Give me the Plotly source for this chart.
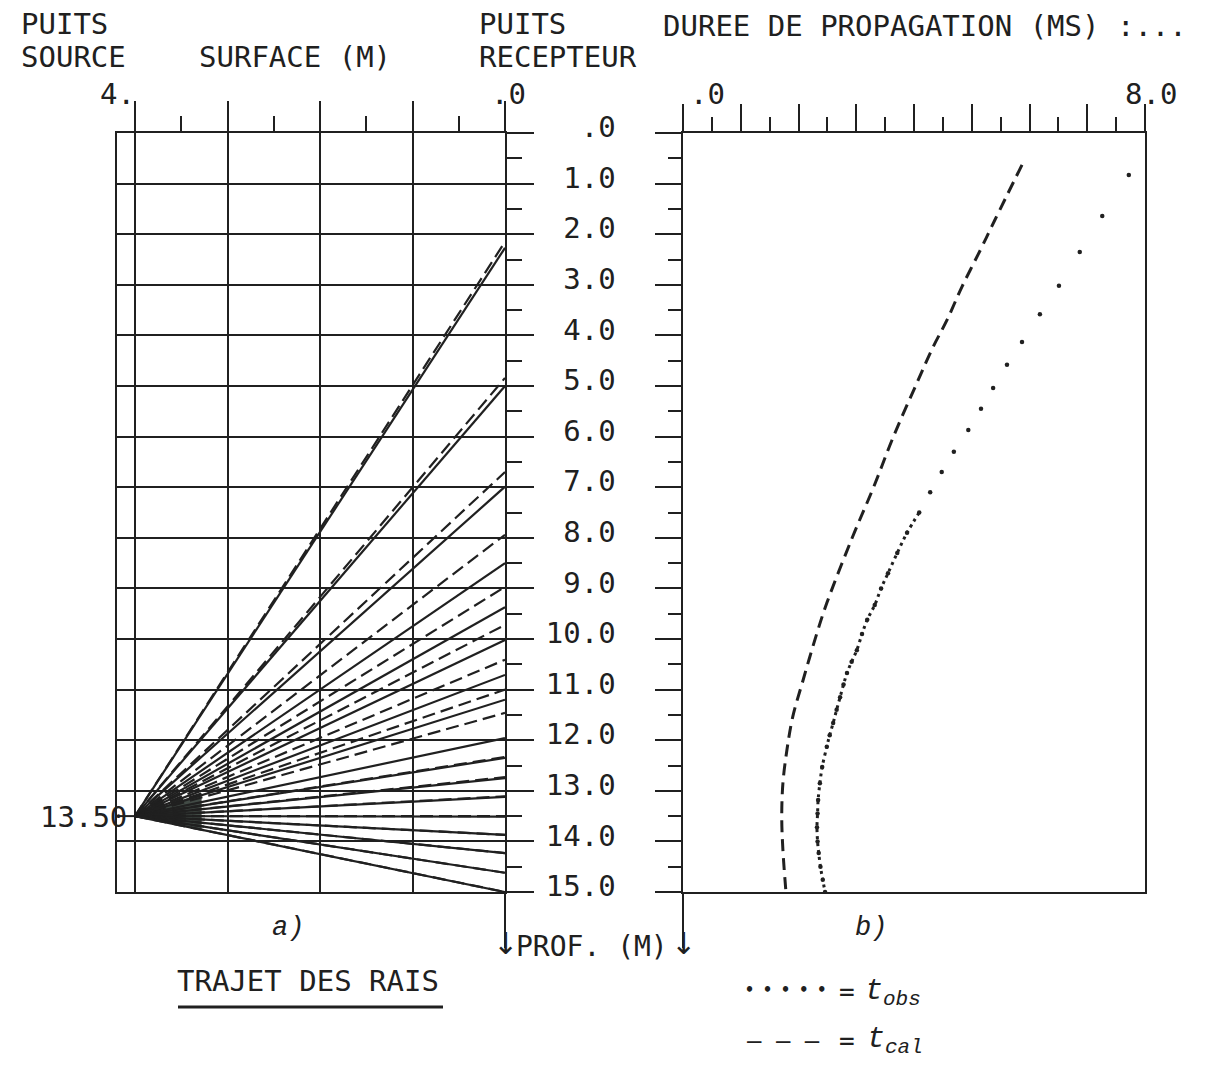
import plotly.graph_objects as go

# ---------------------------------------------------------------------------
# Data
# ---------------------------------------------------------------------------
# Cross-well geometry (m)
source_offset = 4.0      # distance from receiver well to source well
source_depth = 13.5      # shot depth in the source well

# Depth (m) at which each ray reaches the receiver well
ray_end_solid = [2.27, 5.00, 6.99, 8.50, 9.37, 10.02, 10.71, 11.20, 11.96,
                 12.35, 12.75, 13.12, 13.51, 13.87, 14.23, 14.62, 15.00]
ray_end_dashed = [2.15, 4.84, 6.70, 7.94, 8.97, 9.72, 10.41, 11.00, 11.46,
                  12.33, 12.73, 13.11, 13.50, 13.87, 14.23, 14.62, 15.00]

# Computed travel times (ms) vs receiver depth (m)
cal_depth = [0.63, 1.72, 2.31, 3.04, 3.70, 4.23, 4.94, 6.01, 7.00, 8.00,
             9.29, 9.88, 10.81, 11.54, 12.19, 12.85, 13.52, 14.17, 14.96]
cal_time = [5.87, 5.40, 5.15, 4.83, 4.57, 4.33, 4.05, 3.64, 3.30, 2.93,
            2.49, 2.32, 2.08, 1.90, 1.80, 1.73, 1.71, 1.73, 1.78]

# Observed travel times (ms) vs receiver depth (m)
obs_depth = [0.83, 1.64, 2.35, 3.02, 3.58, 4.13, 4.58, 5.04, 5.45, 5.87,
             6.30, 6.70, 7.10, 7.50, 7.90, 8.30, 8.70, 9.00, 9.33, 9.62,
             9.90, 10.22, 10.45, 10.67, 10.90, 11.15, 11.40, 11.66, 11.90,
             12.13, 12.53, 12.85, 13.18, 13.45, 13.72, 14.00, 14.23, 14.50,
             14.76, 15.00]
obs_time = [7.72, 7.26, 6.87, 6.51, 6.18, 5.87, 5.61, 5.37, 5.16, 4.94,
            4.69, 4.48, 4.28, 4.09, 3.88, 3.71, 3.55, 3.43, 3.32, 3.19,
            3.10, 3.01, 2.92, 2.84, 2.78, 2.72, 2.66, 2.60, 2.54,
            2.49, 2.41, 2.37, 2.34, 2.33, 2.32, 2.33, 2.35, 2.38,
            2.42, 2.46]

depth_ticks = list(range(0, 16))
surface_ticks = [0, 1, 2, 3, 4]
time_ticks = list(range(0, 9))

# ---------------------------------------------------------------------------
# Page geometry and style
# ---------------------------------------------------------------------------
W, H = 1211, 1066
INK = "#202020"
MONO = "DejaVu Sans Mono"
SCRIPT = "Liberation Mono"


def fx(p):
    return p / W


def fy(p):
    return 1 - p / H


x_left_edge = (505 - 117) / 92.5     # surface-axis value at the left frame
dense_from = 7.4                     # observed samples are continuous below this depth
core_width = 0.72                    # width (m) of the dense fan around the source


def depth_label(v):
    s = f"{v:.1f}"
    if s.startswith("0"):
        s = s[1:]
    return s.rjust(4, "\u00a0")


fig = go.Figure()

# --- a) ray paths -----------------------------------------------------------
def ray_point(end_depth, s):
    return (source_offset - s,
            source_depth + (end_depth - source_depth) * s / source_offset)


core = [d for d in ray_end_solid + ray_end_dashed if d >= 10.9]
p_top = ray_point(min(core), core_width)
p_bot = ray_point(max(core), core_width)
fig.add_trace(go.Scatter(
    x=[source_offset, p_top[0], p_bot[0], source_offset],
    y=[source_depth, p_top[1], p_bot[1], source_depth],
    fill="toself", fillcolor="rgba(40,50,44,0.88)", mode="lines",
    line=dict(width=0), xaxis="x", yaxis="y", hoverinfo="skip"))


def ray_xy(ends):
    xs, ys = [], []
    for d in ends:
        xs += [source_offset, 0, None]
        ys += [source_depth, d, None]
    return xs, ys


xd, yd = ray_xy(ray_end_dashed)
fig.add_trace(go.Scatter(x=xd, y=yd, mode="lines", xaxis="x", yaxis="y",
                         line=dict(color=INK, width=2.2, dash="13px,6px")))
xs, ys = ray_xy(ray_end_solid)
fig.add_trace(go.Scatter(x=xs, y=ys, mode="lines", xaxis="x", yaxis="y",
                         line=dict(color=INK, width=2.2)))
# source position mark on the source well
fig.add_trace(go.Scatter(x=[x_left_edge, source_offset], y=[source_depth] * 2,
                         mode="lines", xaxis="x", yaxis="y",
                         line=dict(color=INK, width=2)))

# --- b) travel times ----------------------------------------------------------
fig.add_trace(go.Scatter(x=cal_time, y=cal_depth, mode="lines", xaxis="x2", yaxis="y2",
                         line=dict(color=INK, width=3, dash="12px,7px", shape="spline")))
fig.add_trace(go.Scatter(x=obs_time, y=obs_depth, mode="markers", xaxis="x2", yaxis="y2",
                         marker=dict(color=INK, size=4.5)))
dense = [(t, d) for t, d in zip(obs_time, obs_depth) if d >= dense_from]
fig.add_trace(go.Scatter(x=[p[0] for p in dense], y=[p[1] for p in dense],
                         mode="lines", xaxis="x2", yaxis="y2",
                         line=dict(color=INK, width=3, dash="3px,4px", shape="spline")))

# ---------------------------------------------------------------------------
# Axes
# ---------------------------------------------------------------------------
ydom = [fy(892), fy(133)]
common = dict(showline=True, linecolor=INK, linewidth=2, ticks="outside",
              tickcolor=INK, tickwidth=2, zeroline=False, fixedrange=True,
              automargin=False)

fig.update_layout(
    width=W, height=H, margin=dict(l=0, r=0, t=0, b=0, pad=0, autoexpand=False),
    autosize=False,
    paper_bgcolor="white", plot_bgcolor="white", showlegend=False,
    xaxis=dict(domain=[fx(117), fx(505)], range=[x_left_edge, 0], anchor="y",
               side="top", mirror=True, tickmode="array", tickvals=surface_ticks,
               ticklen=30, showticklabels=False, showgrid=True, gridcolor=INK,
               gridwidth=2,
               minor=dict(tickmode="array",
                          tickvals=[v + 0.5 for v in surface_ticks[:-1]],
                          ticks="outside", ticklen=15, tickwidth=2, tickcolor=INK,
                          showgrid=False),
               **common),
    yaxis=dict(domain=ydom, range=[15, 0], anchor="x", side="right", mirror=True,
               tickmode="array", tickvals=depth_ticks,
               ticktext=[depth_label(v) for v in depth_ticks],
               ticklen=27, showgrid=True, gridcolor=INK, gridwidth=2,
               tickfont=dict(family=MONO, size=29, color=INK),
               ticklabelstandoff=6, ticklabelshift=6,
               minor=dict(tickmode="array",
                          tickvals=[v + 0.5 for v in depth_ticks[:-1]],
                          ticks="outside", ticklen=15, tickwidth=2, tickcolor=INK,
                          showgrid=False),
               **common),
    xaxis2=dict(domain=[fx(683), fx(1145)], range=[0, 8], anchor="y2", side="top",
                mirror=True, tickmode="array", tickvals=time_ticks, ticklen=27,
                showticklabels=False, showgrid=False,
                minor=dict(tickmode="array",
                           tickvals=[v + 0.5 for v in time_ticks[:-1]],
                           ticks="outside", ticklen=14, tickwidth=2, tickcolor=INK,
                           showgrid=False),
                **common),
    yaxis2=dict(domain=ydom, range=[15, 0], anchor="x2", side="left", mirror=True,
                tickmode="array", tickvals=depth_ticks, ticklen=26,
                showticklabels=False, showgrid=False,
                minor=dict(tickmode="array",
                           tickvals=[v + 0.5 for v in depth_ticks[:-1]],
                           ticks="outside", ticklen=13, tickwidth=2, tickcolor=INK,
                           showgrid=False),
                **common),
)

# depth axis extensions ending in the arrows of the PROF. label
for xr, xv in (("x domain", 1), ("x2 domain", 0)):
    fig.add_shape(type="line", xref=xr, yref="paper", x0=xv, x1=xv,
                  y0=ydom[0], y1=fy(948), line=dict(color=INK, width=2))

# underline of the ray-path caption
fig.add_shape(type="line", xref="paper", yref="paper", x0=fx(178), x1=fx(443),
              y0=fy(1007), y1=fy(1007), line=dict(color=INK, width=3))

# ---------------------------------------------------------------------------
# Text
# ---------------------------------------------------------------------------
def label(text, x, y, xanchor="left", size=29, family=MONO, weight="normal"):
    fig.add_annotation(text=text, x=fx(x), y=fy(y), xref="paper", yref="paper",
                       xanchor=xanchor, yanchor="middle", showarrow=False,
                       borderpad=0,
                       font=dict(family=family, size=size, color=INK, weight=weight))


label("PUITS", 20, 24)
label("SOURCE", 20, 57)
label("SURFACE (M)", 198, 57)
label("PUITS", 478, 24)
label("RECEPTEUR", 478, 57)
label("DUREE DE PROPAGATION (MS) :...", 662, 26)
label("4.", 136, 94, xanchor="right")
label(".0", 508, 94, xanchor="center")
label(".0", 707, 94, xanchor="center")
label("8.0", 1151, 94, xanchor="center")
label("13.50", 128, 817, xanchor="right")
label("PROF. (M)", 515, 946, size=28)
label("\u2193", 505, 943, xanchor="center", size=30, family="DejaVu Sans")
label("\u2193", 683, 943, xanchor="center", size=30, family="DejaVu Sans")
label("<i>a)</i>", 288, 928, xanchor="center", size=27, family=SCRIPT)
label("<i>b)</i>", 871, 928, xanchor="center", size=27, family=SCRIPT)
label("TRAJET DES RAIS", 308, 981, xanchor="center")
label("\u2022\u00a0\u2022\u00a0\u2022\u00a0\u2022\u00a0\u2022", 744, 990, size=15,
      weight="bold")
label("=", 838, 992, size=26)
label("<i>t</i><sub><i>obs</i></sub>", 864, 992, size=30, family=SCRIPT)
label("\u2013\u00a0\u2013\u00a0\u2013", 746, 1041, size=24)
label("=", 838, 1041, size=26)
label("<i>t</i><sub><i>cal</i></sub>", 866, 1040, size=30, family=SCRIPT)

fig.write_html("out.html")
